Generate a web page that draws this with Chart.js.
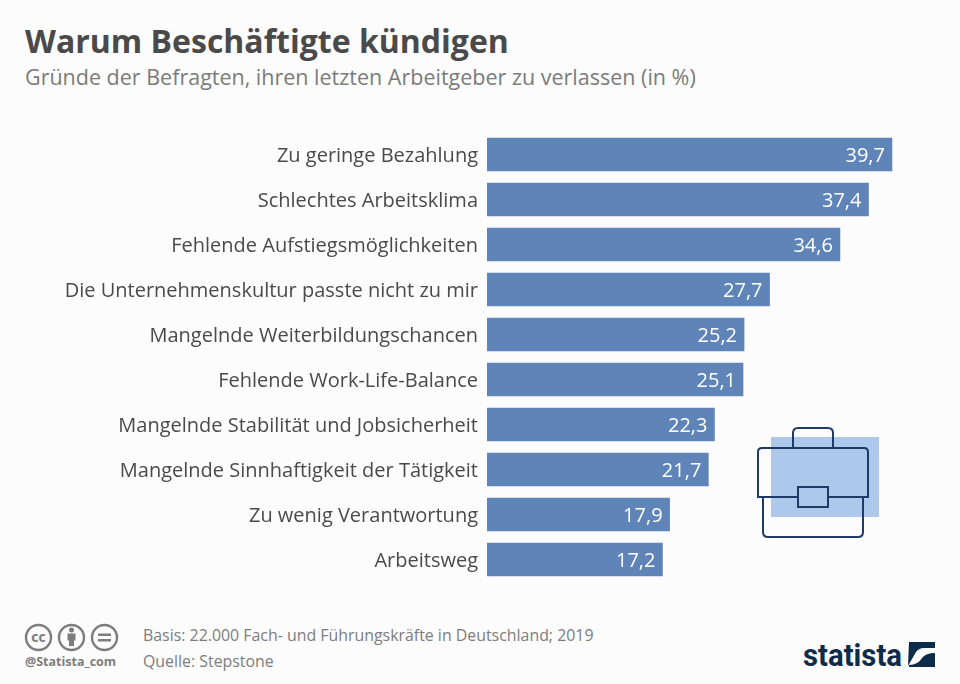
<!DOCTYPE html>
<html>
<head>
<meta charset="utf-8">
<style>
html, body { margin: 0; padding: 0; background: #fcfcfc; }
#wrap { position: relative; width: 960px; height: 684px; overflow: hidden; font-family: "Open Sans", sans-serif; }
#wrap canvas { position: absolute; left: 0; top: 0; }
.txt { position: absolute; white-space: nowrap; }
#title { left: 25px; top: 19px; font-size: 32px; line-height: 44px; font-weight: 700; color: #4a4a4a; }
#subtitle { left: 25px; top: 62px; font-size: 21.5px; line-height: 30px; color: #7b7b7b; }
#basis { left: 143px; top: 625px; font-size: 15.9px; line-height: 20px; color: #7d7d7d; }
#quelle { left: 143px; top: 651px; font-size: 15.9px; line-height: 20px; color: #7d7d7d; }
#handle { left: 25px; top: 654px; font-size: 12.5px; line-height: 16px; font-weight: 700; color: #7d7d7d; }
svg { position: absolute; left: 0; top: 0; }
</style>
</head>
<body>
<div id="wrap">
    <svg width="960" height="684">
        <!-- briefcase icon -->
        <rect x="771" y="437" width="108" height="80" fill="#aec8ec"/>
        <g fill="none" stroke="#1f3a68" stroke-width="2">
            <path d="M793 448 V433 Q793 428 798 428 H828 Q833 428 833 433 V448"/>
            <path d="M758 497 V452 Q758 448 762 448 H864 Q868 448 868 452 V497 Z"/>
            <path d="M763 497 V532 Q763 537 768 537 H858 Q863 537 863 532 V497"/>
            <rect x="798" y="487" width="30" height="20" fill="#aec8ec"/>
        </g>
        <!-- cc icons -->
        <g fill="none" stroke="#7d7d7d" stroke-width="2.4">
            <circle cx="38.500" cy="637.500" r="12.500"/>
            <circle cx="71.500" cy="637.500" r="12.500"/>
            <circle cx="104.500" cy="637.500" r="12.500"/>
        </g>
        <text x="38.500" y="642" font-family="Open Sans" font-size="14" font-weight="700" fill="#7d7d7d" text-anchor="middle">cc</text>
        <g fill="#7d7d7d">
            <circle cx="71.500" cy="630" r="2.500"/>
            <rect x="67.500" y="633.500" width="8" height="7"/>
            <rect x="69" y="640" width="5" height="6"/>
            <rect x="98" y="633.500" width="13" height="2.500"/>
            <rect x="98" y="639" width="13" height="2.500"/>
        </g>
        <!-- statista logo -->
        <text x="803" y="666" font-family="Roboto, Open Sans" font-size="32" font-weight="700" fill="#0f2b4a" textLength="99" lengthAdjust="spacingAndGlyphs">statista</text>
        <path d="M909 642 H935 V648 H924 Q919 648 916 652 L908 666 Z" fill="#0f2b4a"/>
        <path d="M935 653 V667 H909 V665 Q918 665 922 658 Q926 653 935 653 Z" fill="#0f2b4a"/>
    </svg>
    <div class="txt" id="title">Warum Beschäftigte kündigen</div>
    <div class="txt" id="subtitle">Gründe der Befragten, ihren letzten Arbeitgeber zu verlassen (in %)</div>
    <div class="txt" id="basis">Basis: 22.000 Fach- und Führungskräfte in Deutschland; 2019</div>
    <div class="txt" id="quelle">Quelle: Stepstone</div>
    <div class="txt" id="handle">@Statista_com</div>
    <canvas id="chart" width="960" height="684"></canvas>
</div>

<script src="https://cdn.jsdelivr.net/npm/chart.js@4"></script>
<script>
const categories = [
    'Zu geringe Bezahlung',
    'Schlechtes Arbeitsklima',
    'Fehlende Aufstiegsmöglichkeiten',
    'Die Unternehmenskultur passte nicht zu mir',
    'Mangelnde Weiterbildungschancen',
    'Fehlende Work-Life-Balance',
    'Mangelnde Stabilität und Jobsicherheit',
    'Mangelnde Sinnhaftigkeit der Tätigkeit',
    'Zu wenig Verantwortung',
    'Arbeitsweg'
];
const values = [39.7, 37.4, 34.6, 27.7, 25.2, 25.1, 22.3, 21.7, 17.9, 17.2];

//values inside the bar end, with a german decimal comma
const valueLabels = {
    id: 'valueLabels',
    afterDatasetsDraw(chart) {
        const ctx = chart.ctx;
        ctx.save();
        ctx.font = '20px "Open Sans"';
        ctx.fillStyle = '#ffffff';
        ctx.textAlign = 'right';
        ctx.textBaseline = 'middle';
        chart.getDatasetMeta(0).data.forEach((bar, i) => {
            ctx.fillText(values[i].toFixed(1).replace('.', ','), bar.x - 7, bar.y + 2);
        });
        ctx.restore();
    }
};

new Chart(document.getElementById('chart'), {
    type: 'bar',
    data: {
        labels: categories,
        datasets: [{
            data: values,
            backgroundColor: '#5f84b8',
            barThickness: 33,
            borderWidth: 0
        }]
    },
    options: {
        indexAxis: 'y',
        responsive: false,
        animation: false,
        layout: { padding: { top: 132, bottom: 102, left: 0, right: 65 } },
        plugins: { legend: { display: false }, tooltip: { enabled: false } },
        scales: {
            x: { display: false, min: 0, max: 40 },
            y: {
                afterFit(scale) { scale.width = 487; },
                border: { display: false },
                grid: { display: false, drawTicks: false },
                ticks: {
                    padding: 9,
                    labelOffset: 2,
                    color: '#4a4a4a',
                    font: { family: '"Open Sans"', size: 20 }
                }
            }
        }
    },
    plugins: [valueLabels]
});
</script>
</body>
</html>
